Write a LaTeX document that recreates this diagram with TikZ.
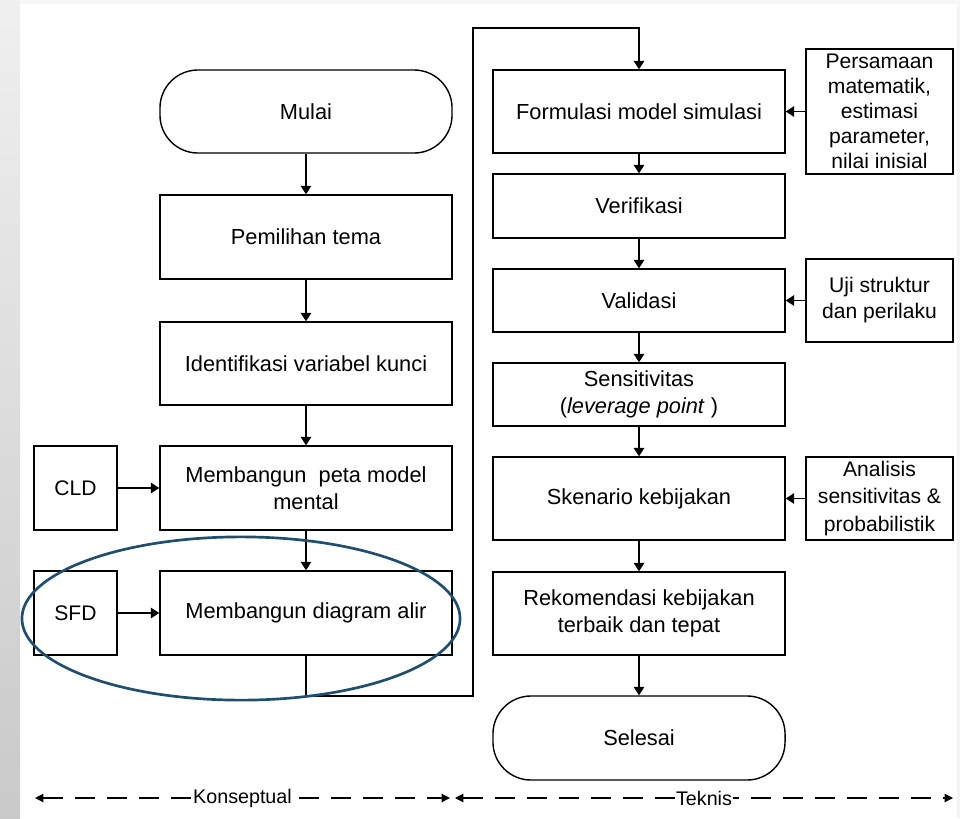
\documentclass[tikz,border=0pt]{standalone}
\usepackage{fontspec}
\setmainfont{Liberation Sans}
\usetikzlibrary{arrows.meta,positioning}
\definecolor{Sorot}{HTML}{1F4E6E}

\begin{document}
\begin{tikzpicture}[x=0.025cm, y=-0.025cm,
  every node/.style={font=\fontsize{15.5}{19.5}\selectfont},
  proses/.style={draw, line width=1pt, minimum width=7.3cm, minimum height=2.075cm, align=center, inner sep=1pt},
  terminal/.style={proses, rounded corners=0.95cm},
  masukan/.style={draw, line width=1pt, minimum width=3.675cm, minimum height=2.075cm, align=center, inner sep=1pt, font=\fontsize{15}{18.5}\selectfont},
  alur/.style={-{Triangle[length=6pt,width=7.5pt]}, line width=1pt},
  batas/.style={{Triangle[length=6pt,width=6pt]}-{Triangle[length=6pt,width=6pt]}, line width=0.9pt, dash pattern=on 0.5cm off 0.3cm},
  tahap/.style={fill=white, inner sep=0.5pt, font=\fontsize{14}{16}\selectfont}]
  \useasboundingbox (0,0) rectangle (960,818);
  \fill[gray!6] (0,0) rectangle (960,4);
  \shade[top color=gray!12, bottom color=gray!42] (0,0) rectangle (20,818);
  \fill[gray!8] (957,4) rectangle (960,818);

  % konseptual
  \node[terminal] (mulai) at (306,111.5) {Mulai};
  \node[proses, minimum height=2.1cm] (tema) at (306,237) {Pemilihan tema};
  \node[proses] (identifikasi) at (306,363.5) {Identifikasi variabel kunci};
  \node[proses, minimum height=2.1cm] (petamental) at (306,488) {Membangun\ \ peta model\\mental};
  \node[proses, minimum height=2.1cm] (diagramalir) at (306,613) {Membangun diagram alir};
  \node[masukan, minimum width=2.075cm, minimum height=2.1cm] (cld) at (75.5,488) {CLD};
  \node[masukan, minimum width=2.075cm, minimum height=2.1cm] (sfd) at (75.5,613) {SFD};

  % teknis
  \node[proses] (formulasi) at (639,111.5) {Formulasi model simulasi};
  \node[proses, minimum height=1.6cm] (verifikasi) at (639,206) {Verifikasi};
  \node[proses, minimum height=1.575cm] (validasi) at (639,300.5) {Validasi};
  \node[proses, minimum height=1.575cm] (sensitivitas) at (639,394.5) {Sensitivitas\\(\textit{leverage point} )};
  \node[proses] (skenario) at (639,498.5) {Skenario kebijakan};
  \node[proses] (rekomendasi) at (639,613.5) {Rekomendasi kebijakan\\terbaik dan tepat};
  \node[terminal, minimum height=2.1cm] (selesai) at (639,738) {Selesai};
  \node[masukan, minimum height=3.125cm, font=\fontsize{15}{17.8}\selectfont] (persamaan) at (879.5,111.5) {Persamaan\\matematik,\\estimasi\\parameter,\\nilai inisial};
  \node[masukan] (uji) at (879.5,300.5) {Uji struktur\\dan perilaku};
  \node[masukan, font=\fontsize{15}{19.5}\selectfont] (analisis) at (879.5,498.5) {Analisis\\sensitivitas \&\\probabilistik};

  \draw[alur] (mulai) -- (tema);
  \draw[alur] (tema) -- (identifikasi);
  \draw[alur] (identifikasi) -- (petamental);
  \draw[alur] (petamental) -- (diagramalir);
  \draw[alur] (cld) -- (petamental);
  \draw[alur] (sfd) -- (diagramalir);
  \coordinate (bawah) at (473,696);
  \coordinate (atas) at (473,28);
  \draw[alur] (diagramalir.south) |- (bawah) -- (atas) -| (formulasi.north);
  \draw[alur] (formulasi) -- (verifikasi);
  \draw[alur] (verifikasi) -- (validasi);
  \draw[alur] (validasi) -- (sensitivitas);
  \draw[alur] (sensitivitas) -- (skenario);
  \draw[alur] (skenario) -- (rekomendasi);
  \draw[alur] (rekomendasi) -- (selesai);
  \draw[alur] (persamaan) -- (formulasi);
  \draw[alur] (uji.west) -- (validasi.east |- uji.west);
  \draw[alur] (analisis) -- (skenario);

  % sorotan
  \draw[Sorot, line width=1.9pt] (241,618.5) ellipse [x radius=5.475cm, y radius=2.04cm];

  % tahap
  \coordinate (kiri) at (35,798);
  \coordinate (tengahkiri) at (450,798);
  \coordinate (tengahkanan) at (455,798);
  \coordinate (kanan) at (953,798);
  \draw[batas] (kiri) -- (tengahkiri) node[midway, tahap] (konseptual) {Konseptual};
  \draw[batas] (tengahkanan) -- (kanan) node[midway, tahap] (teknis) {Teknis};
\end{tikzpicture}
\end{document}
